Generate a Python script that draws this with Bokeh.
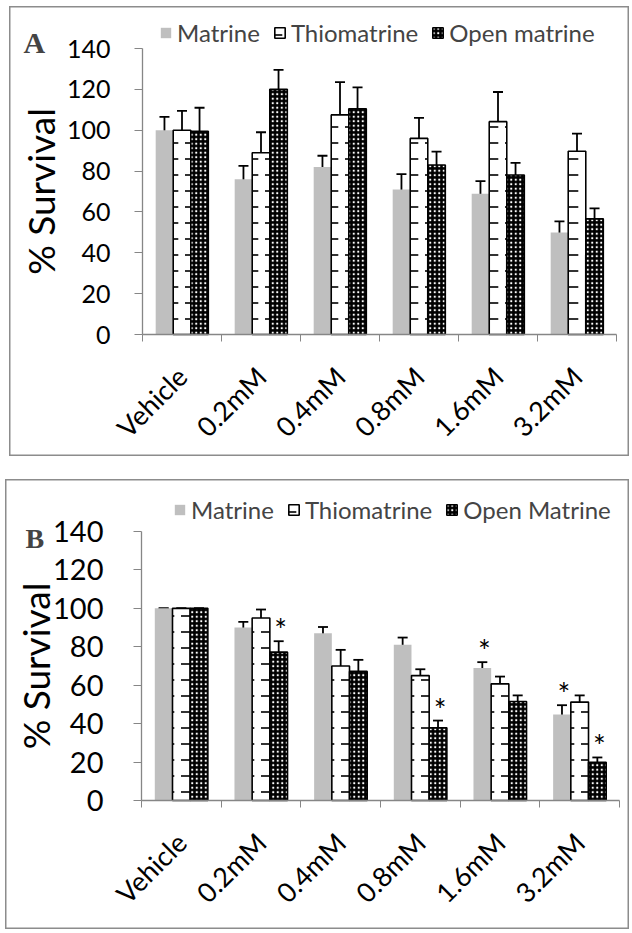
import math

from bokeh.core.properties import value
from bokeh.embed import file_html
from bokeh.layouts import column, row
from bokeh.models import (ColumnDataSource, FixedTicker, Label, Legend,
                          LegendItem, Range1d, Spacer, TeeHead, Whisker)
from bokeh.plotting import figure
from bokeh.resources import INLINE

doses = ["Vehicle", "0.2mM", "0.4mM", "0.8mM", "1.6mM", "3.2mM"]
y_ticks = [0, 20, 40, 60, 80, 100, 120, 140]
y_max = 140

# Panel A: % survival (mean and error)
a_matrine = [100, 76, 82, 71, 68.9, 49.9]
a_matrine_err = [6.5, 6.5, 5.5, 7.5, 6.2, 5.5]
a_thio = [100, 89, 107.5, 96, 104.2, 89.7]
a_thio_err = [9.5, 10, 16, 10, 14.5, 8.6]
a_open = [99.5, 120, 110.5, 83, 78.1, 56.6]
a_open_err = [11.5, 9.5, 10.5, 6.5, 5.9, 5.1]
a_labels = ["Matrine", "Thiomatrine", "Open matrine"]

# Panel B: % survival (mean and error), * marks significant groups
b_matrine = [100, 90, 87, 81, 69, 44.7]
b_matrine_err = [0, 3, 3.3, 3.8, 3, 4.9]
b_thio = [100, 95, 70, 65, 60.7, 51.2]
b_thio_err = [0, 4.4, 8.4, 3.3, 3.8, 3.5]
b_open = [100, 77.2, 67.2, 37.8, 51.5, 19.9]
b_open_err = [0, 5.7, 6, 3.8, 3.2, 2.5]
b_matrine_sig = [False, False, False, False, True, True]
b_thio_sig = [False, False, False, False, False, False]
b_open_sig = [False, True, False, True, False, True]
b_labels = ["Matrine", "Thiomatrine", "Open Matrine"]

FONT = "Lato"
AXIS_GRAY = "#868686"
BAR_W = 0.222

STYLES = [
    dict(fill_color="#BFBFBF", line_color=None),
    dict(fill_color="white", line_color="black", line_width=1.6,
         hatch_pattern="horizontal_dash", hatch_color="black",
         hatch_scale=16, hatch_weight=1.6),
    dict(fill_color="black", line_color="black", line_width=1.6,
         hatch_pattern="dot", hatch_color="white",
         hatch_scale=4.5, hatch_weight=1.0),
]


def make_panel(letter, series, errors, sigs, labels, size, plot_box, fonts,
               legend_loc, letter_pos, tick_standoff, label_standoff):
    """size = (w, h) of the panel; plot_box = (left, top, right, bottom)
    pixel edges of the axes area inside the panel."""
    w, h = size
    left, top, right, bottom = plot_box
    n = len(doses)
    ux = (right - left) / n
    uy = (bottom - top) / y_max
    x_range = Range1d(-left / ux, n + (w - right) / ux)
    y_range = Range1d(-(h - bottom) / uy, y_max + top / uy)

    p = figure(width=w, height=h, x_range=x_range, y_range=y_range,
               output_backend="svg", toolbar_location=None,
               min_border=0, margin=0)
    p.outline_line_color = "#8c8c8c"
    p.outline_line_width = 2
    p.xgrid.visible = False
    p.ygrid.visible = False

    centers = [i + 0.5 for i in range(n)]
    items = []
    for k, (vals, errs, sig, lab) in enumerate(zip(series, errors, sigs, labels)):
        off = (k - 1) * BAR_W
        xs = [c + off for c in centers]
        src = ColumnDataSource(dict(
            x=xs, top=vals,
            upper=[v + e for v, e in zip(vals, errs)],
            lower=[v - e for v, e in zip(vals, errs)],
        ))
        r = p.vbar(x="x", top="top", width=BAR_W, source=src, **STYLES[k])
        items.append(LegendItem(label=lab, renderers=[r]))
        p.add_layout(Whisker(
            source=src, base="x", upper="upper", lower="lower",
            line_color="black", line_width=1.8,
            upper_head=TeeHead(size=10, line_color="black", line_width=1.8),
            lower_head=TeeHead(size=10, line_color="black", line_width=1.8),
        ))
        if sig is not None:
            sx = [x for x, s in zip(xs, sig) if s]
            sy = [v + e for v, e, s in zip(vals, errs, sig) if s]
            if sx:
                p.text(x=sx, y=sy, text=["*"] * len(sx), x_offset=2, y_offset=-12,
                       text_align="center", text_baseline="alphabetic",
                       text_font=value(FONT), text_font_size="30px",
                       text_color="black")

    xa = p.xaxis[0]
    xa.fixed_location = 0
    xa.bounds = (0, n)
    xa.ticker = FixedTicker(ticks=centers, minor_ticks=list(range(n + 1)))
    xa.major_label_overrides = {c: d for c, d in zip(centers, doses)}
    xa.major_label_orientation = math.pi / 4
    xa.major_tick_line_color = None
    xa.minor_tick_line_color = AXIS_GRAY
    xa.minor_tick_out = 7
    xa.minor_tick_in = 0
    xa.axis_line_color = AXIS_GRAY
    xa.axis_line_width = 1.3
    xa.major_label_text_font = FONT
    xa.major_label_text_font_size = "27px"
    xa.major_label_text_color = "black"
    xa.major_label_standoff = 30

    ya = p.yaxis[0]
    ya.fixed_location = 0
    ya.bounds = (0, y_max)
    ya.ticker = FixedTicker(ticks=y_ticks)
    ya.minor_tick_line_color = None
    ya.major_tick_line_color = AXIS_GRAY
    ya.major_tick_out = 8
    ya.major_tick_in = 0
    ya.axis_line_color = AXIS_GRAY
    ya.axis_line_width = 1.3
    ya.major_label_text_font = FONT
    ya.major_label_text_font_size = fonts["tick"]
    ya.major_label_text_color = "black"
    ya.major_label_standoff = tick_standoff
    ya.axis_label = "% Survival"
    ya.axis_label_text_font = FONT
    ya.axis_label_text_font_size = "37px"
    ya.axis_label_text_font_style = "normal"
    ya.axis_label_text_color = "black"
    ya.axis_label_standoff = label_standoff

    legend = Legend(items=items, orientation="horizontal", location=legend_loc,
                    glyph_width=13, glyph_height=13, spacing=13,
                    label_standoff=5, padding=0, margin=0,
                    border_line_color=None, background_fill_alpha=0,
                    label_text_font=FONT, label_text_font_size=fonts["legend"])
    p.add_layout(legend, "center")

    p.add_layout(Label(x=letter_pos[0], y=letter_pos[1], x_units="screen",
                       y_units="screen", text=letter,
                       text_baseline="alphabetic",
                       text_font="Liberation Serif",
                       text_font_style="bold", text_font_size=fonts["letter"]))
    return p


pa = make_panel("A", [a_matrine, a_thio, a_open],
                [a_matrine_err, a_thio_err, a_open_err],
                [None, None, None], a_labels,
                size=(620, 450), plot_box=(133, 42, 607, 328),
                fonts=dict(tick="25px", legend="24px", letter="30px"),
                legend_loc=(150, 409), letter_pos=(14, 414),
                tick_standoff=24, label_standoff=1)
pb = make_panel("B", [b_matrine, b_thio, b_open],
                [b_matrine_err, b_thio_err, b_open_err],
                [b_matrine_sig, b_thio_sig, b_open_sig], b_labels,
                size=(624, 450), plot_box=(136, 52, 614, 321),
                fonts=dict(tick="29px", legend="24px", letter="28px"),
                legend_loc=(168, 405), letter_pos=(20, 391),
                tick_standoff=30, label_standoff=-8)

layout = column(
    Spacer(height=6),
    row(Spacer(width=9), pa, spacing=0),
    Spacer(height=23),
    row(Spacer(width=5), pb, spacing=0),
    spacing=0,
)
open("out.html", "w").write(file_html(layout, INLINE))
